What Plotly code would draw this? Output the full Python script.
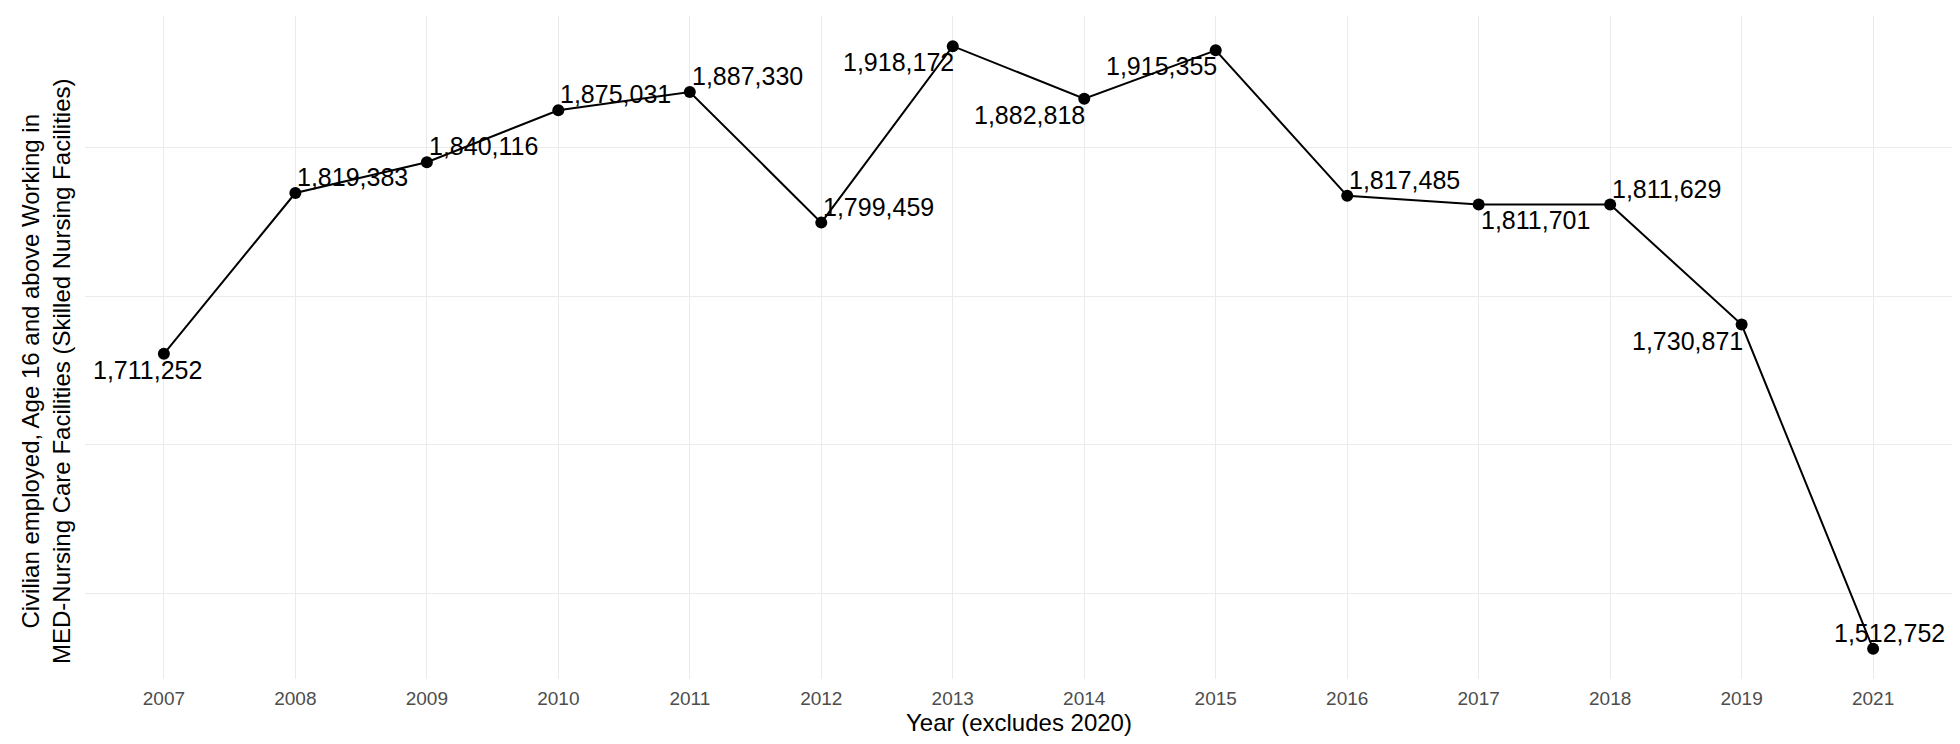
import plotly.graph_objects as go

# ---- data ----
years = ["2007", "2008", "2009", "2010", "2011", "2012", "2013",
         "2014", "2015", "2016", "2017", "2018", "2019", "2021"]
employed = [1711252, 1819383, 1840116, 1875031, 1887330, 1799459, 1918172,
            1882818, 1915355, 1817485, 1811701, 1811629, 1730871, 1512752]
grid_breaks = [1550000, 1650000, 1750000, 1850000]

# ---- label placement (style, not data) ----
label_side = ["below", "above", "above", "above", "above", "above", "below",
              "below", "below", "above", "below", "above", "below", "above"]
label_hjust = [0.65, 0, 0, 0, 0, 0, 1, 1, 1, 0, 0, 0, 1, 0.37]

FONT = "Liberation Sans, Arial, sans-serif"
W, H = 1960, 744
L, R, T, B = 85, 8, 16, 65

ymin, ymax = min(employed), max(employed)
pad = (ymax - ymin) * 0.05

fig = go.Figure()
fig.add_trace(go.Scatter(
    x=years, y=employed, mode="lines+markers",
    line=dict(color="black", width=2),
    marker=dict(color="black", size=12),
    hoverinfo="x+y", showlegend=False,
))

LABEL_W = 112
annotations = []
for i, (v, side, hj) in enumerate(zip(employed, label_side, label_hjust)):
    annotations.append(dict(
        x=i, y=v, xref="x", yref="y",
        text=f"{v:,}", showarrow=False,
        font=dict(family=FONT, size=25, color="black"),
        xanchor="left", xshift=-hj * LABEL_W,
        yanchor="bottom" if side == "above" else "top",
        yshift=0,
    ))

plot_h = H - T - B
annotations.append(dict(
    text="Civilian employed, Age 16 and above Working in<br>MED-Nursing Care Facilities (Skilled Nursing Facilities)",
    xref="paper", yref="paper", x=-(L - 46) / (W - L - R),
    y=1 - (372 - T) / plot_h,
    xanchor="center", yanchor="middle", textangle=-90, showarrow=False,
    font=dict(family=FONT, size=24, color="black"),
))
annotations.append(dict(
    text="Year (excludes 2020)",
    xref="paper", yref="paper", x=0.5, y=-(722 - (H - B)) / plot_h,
    xanchor="center", yanchor="middle", showarrow=False,
    font=dict(family=FONT, size=24, color="black"),
))

fig.update_layout(
    width=W, height=H,
    margin=dict(l=L, r=R, t=T, b=B, autoexpand=False),
    paper_bgcolor="white", plot_bgcolor="white",
    font=dict(family=FONT),
    annotations=annotations,
    xaxis=dict(
        type="category", range=[-0.6, len(years) - 0.4],
        showgrid=True, gridcolor="#ebebeb", gridwidth=1,
        showline=False, zeroline=False, ticks="",
        tickfont=dict(family=FONT, size=19, color="#4d4d4d"),
        ticklabelstandoff=6,
    ),
    yaxis=dict(
        range=[ymin - pad, ymax + pad],
        tickmode="array", tickvals=grid_breaks, showticklabels=False,
        showgrid=True, gridcolor="#ebebeb", gridwidth=1,
        showline=False, zeroline=False, ticks="",
    ),
)

fig.write_html("out.html")
